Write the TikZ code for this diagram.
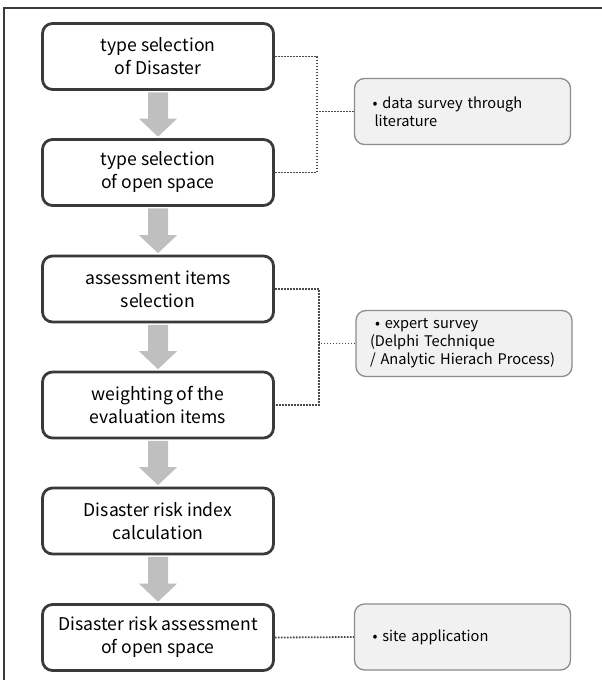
\documentclass[tikz,border=0pt]{standalone}
\usepackage{fontspec}
\setmainfont{Noto Sans CJK KR}
\usetikzlibrary{calc}
\definecolor{boxline}{HTML}{3A3A3A}
\definecolor{flowgray}{HTML}{BFBFBF}
\definecolor{notefill}{HTML}{F1F1F1}
\definecolor{noteline}{HTML}{8C8C8C}
\definecolor{dotgray}{HTML}{4A4A4A}
\tikzset{stepbox/.style={draw=boxline,line width=2.8pt,rounded corners=10pt,fill=white,align=center,font=\fontsize{17.6}{23}\selectfont,minimum width=231pt,minimum height=66pt,inner sep=0pt},notebox/.style={draw=noteline,line width=1.3pt,rounded corners=10pt,fill=notefill,align=left,font=\fontsize{14.6}{18}\selectfont,text width=188pt,inner xsep=14pt,inner ysep=0pt,minimum height=66pt},dotline/.style={line width=1.8pt,draw=dotgray,dash pattern=on 1.6pt off 1.4pt},flowarr/.style={fill=flowgray}}

\begin{document}
\begin{tikzpicture}[x=1pt,y=1pt]
\useasboundingbox (0,0) rectangle (602,-680);
\draw[line width=2pt,draw=boxline] (4,-680) -- (4,-8) -- (602,-8);
\node[stepbox] (s1) at (158,-56.5) {type selection\\of Disaster};
\node[stepbox] (s2) at (158,-172.5) {type selection\\of open space};
\node[stepbox] (s3) at (158,-289) {assessment items\\selection};
\node[stepbox] (s4) at (158,-405) {weighting of the\\evaluation items};
\node[stepbox] (s5) at (158,-521) {Disaster risk index\\calculation};
\node[stepbox] (s6) at (158,-637.5) {Disaster risk assessment\\of open space};
\node[notebox] (nA) at (462.5,-111.5) {\hspace*{4pt}• data survey through\\\hspace*{6pt}literature};
\node[notebox] (nB) at (464,-343.5) {\hspace*{5pt}• expert survey\\(Delphi Technique\\/ Analytic Hierach Process)};
\node[notebox] (nC) at (462.5,-637) {\hspace*{4pt}• site application};
\foreach \a/\b in {s1/s2,s2/s3,s3/s4,s4/s5,s5/s6}
  \fill[flowarr] ($(\a.south)+(-10,-1.4)$) -- ($(\b.north)+(-10,19.4)$) -- ($(\b.north)+(-19,19.4)$) -- ($(\b.north)+(0,1.4)$) -- ($(\b.north)+(19,19.4)$) -- ($(\b.north)+(10,19.4)$) -- ($(\a.south)+(10,-1.4)$) -- cycle;
\coordinate (jA) at ($(s1.east)+(42,0)$);
\coordinate (jB) at ($(s3.east)+(44,0)$);
\draw[dotline] (s1.east) -- (jA) |- (s2.east);
\draw[dotline] (nA.west) -- (nA.west -| jA);
\draw[dotline] (s3.east) -- (jB) |- (s4.east);
\draw[dotline] (nB.west) -- (nB.west -| jB);
\draw[dotline] (s6.east) -- (nC.west);
\end{tikzpicture}
\end{document}
